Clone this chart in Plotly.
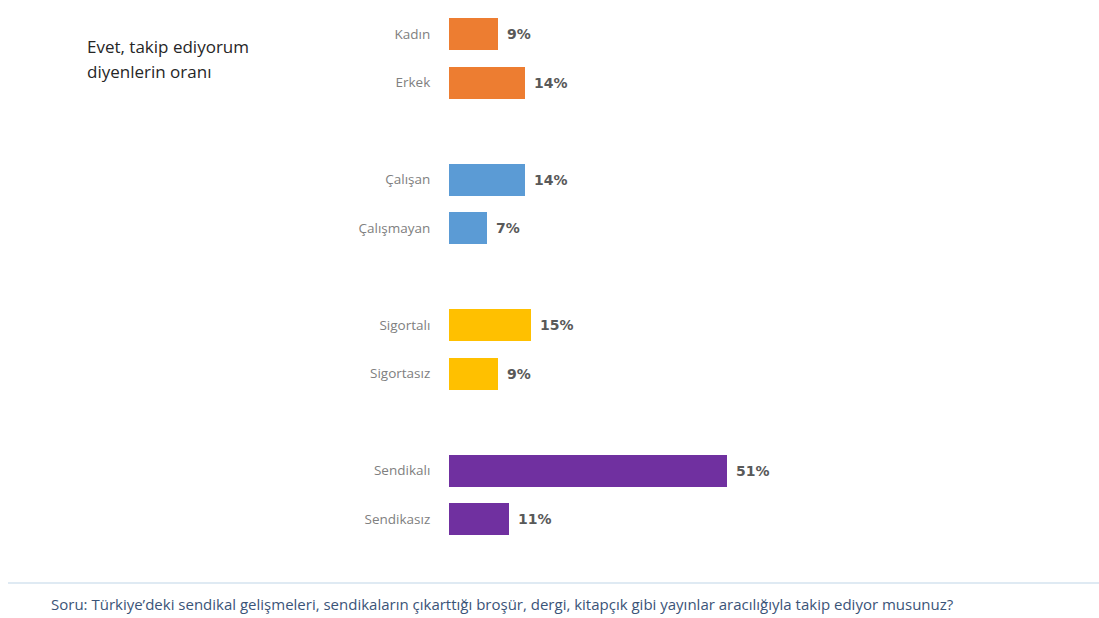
import plotly.graph_objects as go

# Survey groups, share answering "yes" (%)
categories = ["Kadın", "Erkek", "Çalışan", "Çalışmayan",
              "Sigortalı", "Sigortasız", "Sendikalı", "Sendikasız"]
values = [9, 14, 14, 7, 15, 9, 51, 11]
# Row slot of each bar (empty slots separate the groups)
slots = [0, 1, 3, 4, 6, 7, 9, 10]
colors = ["#ED7D31", "#ED7D31", "#5B9BD5", "#5B9BD5",
          "#FFC000", "#FFC000", "#7030A0", "#7030A0"]

title_lines = ["Evet, takip ediyorum", "diyenlerin oranı"]
footnote = ("Soru: Türkiye’deki sendikal gelişmeleri, sendikaların çıkarttığı broşür, dergi, "
            "kitapçık gibi yayınlar aracılığıyla takip ediyor musunuz?")

W, H = 1099, 618
ML, MR, MT, MB = 449, 99, 10, 75
plot_w = W - ML - MR
plot_h = H - MT - MB
px_per_pct = 5.45
px_per_slot = 48.5
top_off = (34 - MT) / px_per_slot

FONT = "'Open Sans', Lato, sans-serif"
VALUE_FONT = "'DejaVu Sans', 'Open Sans', sans-serif"

fig = go.Figure()
fig.add_trace(go.Bar(
    x=values, y=slots, orientation="h",
    marker=dict(color=colors, line=dict(width=0)),
    width=0.66,
    hoverinfo="skip",
))

annotations = []
for v, s in zip(values, slots):
    annotations.append(dict(
        x=v, y=s, xref="x", yref="y", text=f"<b>{v}%</b>",
        showarrow=False, xanchor="left", yanchor="middle", xshift=7,
        font=dict(family=VALUE_FONT, size=14, color="#595959"),
    ))


def px_x(p):
    return (p - ML) / plot_w


def px_y(p):
    return 1 - (p - MT) / plot_h


for i, line in enumerate(title_lines):
    annotations.append(dict(
        x=px_x(85), y=px_y(47 + 25 * i), xref="paper", yref="paper",
        text=line, showarrow=False, align="left",
        xanchor="left", yanchor="middle",
        font=dict(family=FONT, size=17, color="#262626"),
    ))
annotations.append(dict(
    x=px_x(49), y=px_y(604), xref="paper", yref="paper",
    text=footnote, showarrow=False, align="left",
    xanchor="left", yanchor="middle",
    font=dict(family=FONT, size=15, color="#3B5478"),
))

fig.update_layout(
    width=W, height=H,
    margin=dict(l=ML, r=MR, t=MT, b=MB),
    paper_bgcolor="white", plot_bgcolor="white",
    showlegend=False,
    bargap=0,
    font=dict(family=FONT),
    xaxis=dict(range=[0, plot_w / px_per_pct], visible=False, fixedrange=True),
    yaxis=dict(
        range=[-top_off + plot_h / px_per_slot, -top_off],
        tickvals=slots, ticktext=categories,
        ticks="outside", ticklen=15, tickcolor="rgba(0,0,0,0)",
        showgrid=False, zeroline=False, showline=False,
        tickfont=dict(family=FONT, size=13.5, color="#808080"),
        fixedrange=True,
    ),
    annotations=annotations,
    shapes=[dict(
        type="line", xref="paper", yref="paper",
        x0=px_x(8), x1=px_x(1099), y0=px_y(583), y1=px_y(583),
        line=dict(color="#D5E3EF", width=1.5),
    )],
)

fig.write_html("out.html")
